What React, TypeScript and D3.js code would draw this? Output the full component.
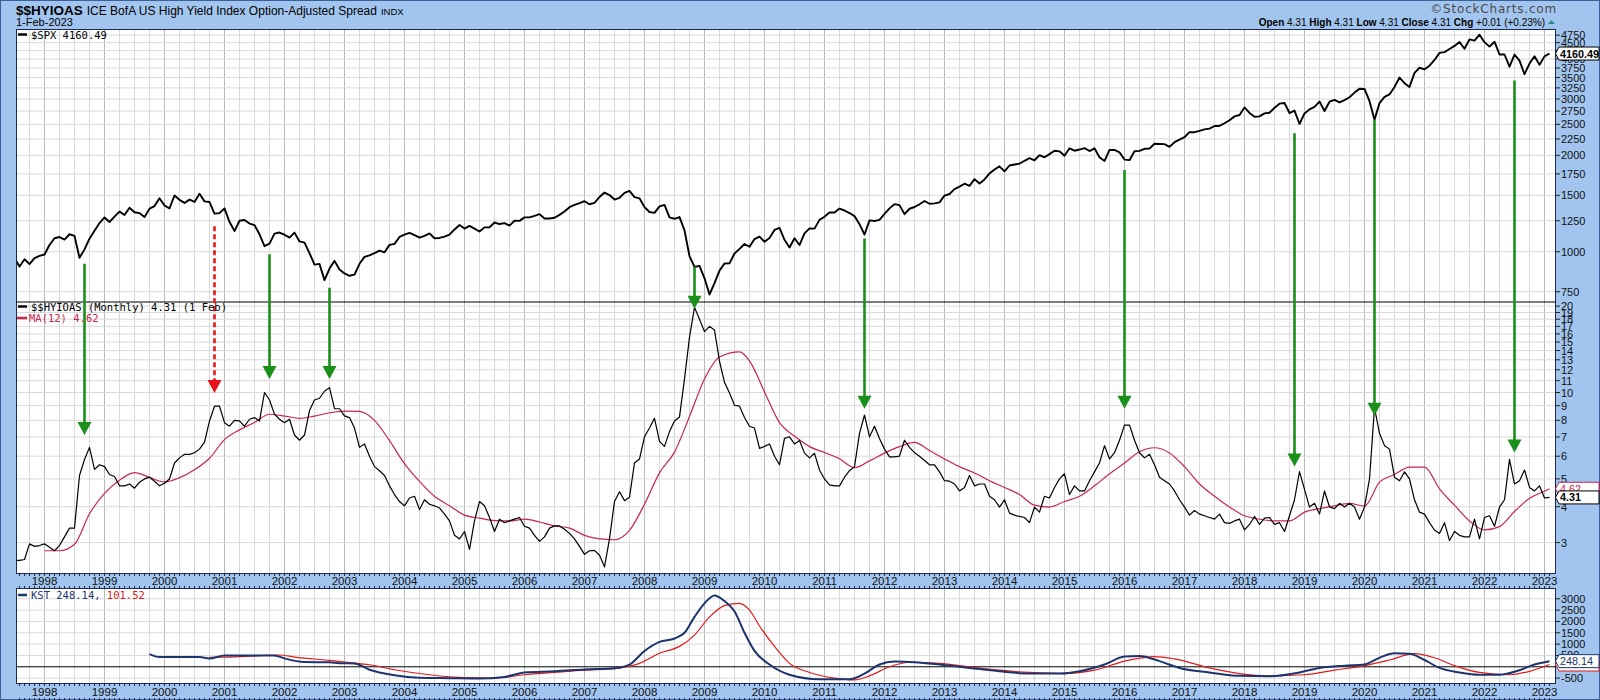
import React from 'react';
import * as d3 from 'd3';

// ---------- DATA ----------
const START = '1997-07'; // first monthly point of spx / hy

const spx = [
  954.29, 899.47, 947.28, 914.62, 955.4, 970.43,
  980.28, 1049.34, 1101.75, 1111.75, 1090.82, 1133.84, 1120.67, 957.28, 1017.01, 1098.67, 1163.63, 1229.23,
  1279.64, 1238.33, 1286.37, 1335.18, 1301.84, 1372.71, 1328.72, 1320.41, 1282.71, 1362.93, 1388.91, 1469.25,
  1394.46, 1366.42, 1498.58, 1452.43, 1420.6, 1454.6, 1430.83, 1517.68, 1436.51, 1429.4, 1314.95, 1320.28,
  1366.01, 1239.94, 1160.33, 1249.46, 1255.82, 1224.38, 1211.23, 1133.58, 1040.94, 1059.78, 1139.45, 1148.08,
  1130.2, 1106.73, 1147.39, 1076.92, 1067.14, 989.82, 911.62, 916.07, 815.28, 885.76, 936.31, 879.82,
  855.7, 841.15, 848.18, 916.92, 963.59, 974.5, 990.31, 1008.01, 995.97, 1050.71, 1058.2, 1111.92,
  1131.13, 1144.94, 1126.21, 1107.3, 1120.68, 1140.84, 1101.72, 1104.24, 1114.58, 1130.2, 1173.82, 1211.92,
  1181.27, 1203.6, 1180.59, 1156.85, 1191.5, 1191.33, 1234.18, 1220.33, 1228.81, 1207.01, 1249.48, 1248.29,
  1280.08, 1280.66, 1294.83, 1310.61, 1270.09, 1270.2, 1276.66, 1303.82, 1335.85, 1377.94, 1400.63, 1418.3,
  1438.24, 1406.82, 1420.86, 1482.37, 1530.62, 1503.35, 1455.27, 1473.99, 1526.75, 1549.38, 1481.14, 1468.36,
  1378.55, 1330.63, 1322.7, 1385.59, 1400.38, 1280.0, 1267.38, 1282.83, 1166.36, 968.75, 896.24, 903.25,
  825.88, 735.09, 797.87, 872.81, 919.14, 919.32, 987.48, 1020.62, 1057.08, 1036.19, 1095.63, 1115.1,
  1073.87, 1104.49, 1169.43, 1186.69, 1089.41, 1030.71, 1101.6, 1049.33, 1141.2, 1183.26, 1180.55, 1257.64,
  1286.12, 1327.22, 1325.83, 1363.61, 1345.2, 1320.64, 1292.28, 1218.89, 1131.42, 1253.3, 1246.96, 1257.6,
  1312.41, 1365.68, 1408.47, 1397.91, 1310.33, 1362.16, 1379.32, 1406.58, 1440.67, 1412.16, 1416.18, 1426.19,
  1498.11, 1514.68, 1569.19, 1597.57, 1630.74, 1606.28, 1685.73, 1632.97, 1681.55, 1756.54, 1805.81, 1848.36,
  1782.59, 1859.45, 1872.34, 1883.95, 1923.57, 1960.23, 1930.67, 2003.37, 1972.29, 2018.05, 2067.56, 2058.9,
  1994.99, 2104.5, 2067.89, 2085.51, 2107.39, 2063.11, 2103.84, 1972.18, 1920.03, 2079.36, 2080.41, 2043.94,
  1940.24, 1932.23, 2059.74, 2065.3, 2096.95, 2098.86, 2173.6, 2170.95, 2168.27, 2126.15, 2198.81, 2238.83,
  2278.87, 2363.64, 2362.72, 2384.2, 2411.8, 2423.41, 2470.3, 2471.65, 2519.36, 2575.26, 2647.58, 2673.61,
  2823.81, 2713.83, 2640.87, 2648.05, 2705.27, 2718.37, 2816.29, 2901.52, 2913.98, 2711.74, 2760.17, 2506.85,
  2704.1, 2784.49, 2834.4, 2945.83, 2752.06, 2941.76, 2980.38, 2926.46, 2976.74, 3037.56, 3140.98, 3230.78,
  3225.52, 2954.22, 2584.59, 2912.43, 3044.31, 3100.29, 3271.12, 3500.31, 3363.0, 3269.96, 3621.63, 3756.07,
  3714.24, 3811.15, 3972.89, 4181.17, 4204.11, 4297.5, 4395.26, 4522.68, 4307.54, 4605.38, 4567.0, 4766.18,
  4515.55, 4373.94, 4530.41, 4131.93, 4132.15, 3785.38, 4130.29, 3955.0, 3585.62, 3871.98, 4080.11, 3839.5,
  4076.6, 4160.49,
];

const hy = [
  2.6, 2.6, 2.62, 2.97, 2.91, 2.93,
  2.97, 2.89, 2.81, 2.93, 3.14, 3.37, 3.37, 5.14, 5.84, 6.44, 5.4, 5.6,
  5.52, 5.18, 5.1, 4.73, 4.73, 4.8, 4.64, 4.87, 5.0, 5.07, 4.91, 4.73,
  4.83, 5.0, 5.68, 5.92, 6.09, 6.09, 6.17, 6.35, 6.72, 7.96, 8.96, 8.96,
  7.85, 7.63, 8.0, 7.96, 7.63, 8.07, 8.18, 7.96, 10.0, 9.42, 8.41, 8.07,
  7.85, 8.07, 7.11, 6.82, 7.11, 8.65, 9.42, 9.55, 10.1, 10.4, 8.78, 8.78,
  8.29, 8.18, 7.52, 6.44, 6.62, 6.0, 5.52, 5.34, 5.14, 4.73, 4.41, 4.17,
  4.03, 4.29, 4.35, 3.91, 4.23, 4.08, 4.03, 3.96, 3.77, 3.57, 3.18, 3.09,
  3.28, 2.84, 3.57, 4.17, 4.03, 3.67, 3.28, 3.62, 3.52, 3.57, 3.62, 3.67,
  3.42, 3.37, 3.18, 3.03, 3.14, 3.37, 3.43, 3.43, 3.34, 3.23, 3.09, 2.91,
  2.73, 2.81, 2.82, 2.71, 2.47, 3.09, 4.17, 4.51, 4.2, 4.32, 5.68, 5.87,
  7.01, 7.52, 8.13, 6.76, 6.49, 7.31, 7.96, 8.22, 11.15, 15.6, 19.8, 18.0,
  16.3, 17.0, 16.5, 12.85, 10.85, 9.97, 9.03, 8.96, 8.18, 7.63, 7.52, 6.39,
  6.49, 6.62, 6.0, 5.6, 6.92, 7.01, 6.62, 6.8, 6.15, 5.92, 6.14, 5.37,
  5.0, 4.77, 4.73, 4.73, 5.07, 5.34, 5.52, 7.21, 8.35, 7.01, 7.63, 6.92,
  6.35, 5.97, 5.97, 6.0, 6.82, 6.44, 6.17, 6.0, 5.8, 5.6, 5.6, 5.29,
  4.93, 4.91, 4.8, 4.54, 4.67, 5.14, 4.73, 4.8, 4.8, 4.35, 4.23, 3.99,
  4.23, 3.8, 3.74, 3.7, 3.67, 3.52, 3.99, 3.83, 4.35, 4.29, 4.67, 5.0,
  5.21, 4.41, 4.73, 4.54, 4.54, 4.93, 5.29, 5.68, 6.53, 5.87, 6.17, 6.82,
  7.7, 7.7, 6.82, 6.17, 5.92, 6.09, 5.6, 5.07, 4.93, 4.8, 4.54, 4.23,
  3.99, 3.74, 3.88, 3.77, 3.72, 3.67, 3.62, 3.77, 3.52, 3.5, 3.57, 3.62,
  3.32, 3.47, 3.7, 3.47, 3.65, 3.67, 3.47, 3.52, 3.28, 3.72, 4.23, 5.3,
  4.6, 3.99, 4.11, 3.77, 4.54, 3.99, 3.94, 4.11, 3.99, 4.11, 3.99, 3.62,
  3.99, 5.0, 8.85, 7.21, 6.53, 6.35, 5.07, 4.93, 5.29, 5.0, 4.23, 3.83,
  3.77, 3.52, 3.32, 3.23, 3.52, 3.05, 3.28, 3.18, 3.14, 3.14, 3.62, 3.09,
  3.67, 3.72, 3.42, 3.99, 4.23, 5.85, 4.8, 4.93, 5.37, 4.67, 4.54, 4.73,
  4.29, 4.31,
];

const maDates = [
  '1998-01', '1998-04', '1998-07', '1998-10', '1999-01', '1999-04', '1999-07', '1999-10',
  '2000-01', '2000-04', '2000-07', '2000-10', '2001-01', '2001-04', '2001-07', '2001-10',
  '2002-01', '2002-04', '2002-07', '2002-10', '2003-01', '2003-04', '2003-07', '2003-10',
  '2004-01', '2004-04', '2004-07', '2004-10', '2005-01', '2005-04', '2005-07', '2005-10',
  '2006-01', '2006-04', '2006-07', '2006-10', '2007-01', '2007-04', '2007-07', '2007-10',
  '2008-01', '2008-04', '2008-07', '2008-10', '2009-01', '2009-04', '2009-08', '2009-10',
  '2010-01', '2010-04', '2010-07', '2010-10', '2011-01', '2011-04', '2011-07', '2011-10',
  '2012-01', '2012-04', '2012-07', '2012-10', '2013-01', '2013-04', '2013-07', '2013-10',
  '2014-01', '2014-04', '2014-07', '2014-10', '2015-01', '2015-04', '2015-07', '2015-10',
  '2016-01', '2016-04', '2016-07', '2016-10', '2017-01', '2017-04', '2017-07', '2017-10',
  '2018-01', '2018-04', '2018-07', '2018-10', '2019-01', '2019-04', '2019-07', '2019-10',
  '2020-01', '2020-04', '2020-07', '2020-10', '2021-01', '2021-04', '2021-07', '2021-10',
  '2022-01', '2022-04', '2022-07', '2022-10', '2023-01', '2023-02',
];
const maValues = [
  2.81, 2.81, 2.96, 3.78, 4.45, 4.95, 5.26, 5.06,
  4.88, 5.05, 5.38, 5.9, 6.85, 7.41, 7.86, 8.4,
  8.28, 8.13, 8.28, 8.5, 8.62, 8.6, 8.0, 6.8,
  5.65, 4.9, 4.35, 4.03, 3.74, 3.65, 3.58, 3.57,
  3.62, 3.54, 3.43, 3.37, 3.18, 3.09, 3.07, 3.31,
  4.08, 5.25, 6.2, 8.25, 11.15, 13.3, 13.85, 12.9,
  10.05, 7.85, 7.05, 6.48, 6.18, 5.88, 5.47, 5.78,
  6.15, 6.48, 6.7, 6.28, 5.87, 5.52, 5.24, 4.93,
  4.67, 4.41, 4.05, 3.99, 4.17, 4.35, 4.73, 5.21,
  5.68, 6.22, 6.42, 6.16, 5.52, 4.8, 4.35, 3.99,
  3.72, 3.62, 3.57, 3.57, 3.83, 3.94, 4.03, 4.11,
  4.02, 4.87, 5.18, 5.5, 5.5, 4.62, 4.05, 3.57,
  3.32, 3.41, 3.85, 4.28, 4.53, 4.62,
];

const kstDates = [
  '1999-10', '1999-12', '2000-08', '2000-10', '2001-01', '2001-11', '2002-01', '2002-05', '2002-10',
  '2002-12', '2003-03', '2003-06', '2003-11', '2004-04', '2004-10', '2005-04', '2005-09', '2006-01',
  '2006-07', '2007-01', '2007-07', '2007-10', '2008-01', '2008-04', '2008-07', '2008-09', '2008-11',
  '2009-01', '2009-03', '2009-05', '2009-07', '2009-09', '2009-11', '2010-02', '2010-06', '2010-12',
  '2011-06', '2011-09', '2011-12', '2012-03', '2012-07', '2012-12', '2013-06', '2013-12', '2014-06',
  '2014-12', '2015-04', '2015-09', '2016-01', '2016-04', '2016-08', '2016-12', '2017-06', '2017-12',
  '2018-06', '2018-12', '2019-04', '2019-09', '2020-01', '2020-04', '2020-07', '2020-10', '2021-01',
  '2021-04', '2021-08', '2021-12', '2022-04', '2022-08', '2022-11', '2023-02',
];
const kstValues = [
  560, 430, 430, 370, 500, 500, 370, 210, 200,
  160, 150, -130, -370, -480, -500, -520, -450, -250,
  -200, -120, -60, 100, 700, 1100, 1250, 1500, 2200,
  2800, 3150, 2900, 2450, 1500, 700, 100, -350, -550,
  -550, -300, 100, 230, 200, 100, -50, -200, -300,
  -300, -200, 100, 450, 480, 250, -50, -250, -400,
  -420, -250, -50, 50, 100, 400, 600, 580, 300,
  -50, -250, -350, -350, -150, 100, 248.14,
];

const sigDates = [
  '2000-10', '2001-03', '2001-09', '2001-12', '2002-03', '2002-10', '2003-02', '2003-06', '2003-11',
  '2004-06', '2005-01', '2005-07', '2006-01', '2006-07', '2007-01', '2007-07', '2007-12', '2008-04',
  '2008-08', '2008-11', '2009-02', '2009-05', '2009-08', '2009-10', '2009-12', '2010-03', '2010-06',
  '2010-10', '2011-03', '2011-07', '2011-10', '2012-02', '2012-06', '2012-12', '2013-06', '2013-12',
  '2014-06', '2015-01', '2015-07', '2016-01', '2016-07', '2016-11', '2017-06', '2017-12', '2018-06',
  '2019-01', '2019-07', '2020-01', '2020-06', '2020-11', '2021-03', '2021-07', '2021-12', '2022-06',
  '2022-10', '2023-02',
];
const sigValues = [
  420, 440, 500, 520, 430, 280, 190, 90, -130,
  -350, -480, -500, -350, -250, -150, -80, 150, 600,
  900, 1400, 2200, 2700, 2800, 2500, 1800, 900, 150,
  -250, -500, -580, -400, 0, 200, 150, 0, -150,
  -250, -300, -150, 250, 450, 350, -50, -300, -400,
  -350, -150, 50, 300, 580, 400, 50, -250, -350,
  -200, 101.52,
];

const yearLabels = ['1998', '1999', '2000', '2001', '2002', '2003', '2004', '2005', '2006', '2007', '2008',
  '2009', '2010', '2011', '2012', '2013', '2014', '2015', '2016', '2017', '2018', '2019', '2020', '2021',
  '2022', '2023'];
const spxTicks = [750, 1000, 1250, 1500, 1750, 2000, 2250, 2500, 2750, 3000, 3250, 3500, 3750, 4000, 4250, 4500, 4750];
const spxLabels = ['750', '1000', '1250', '1500', '1750', '2000', '2250', '2500', '2750', '3000', '3250', '3500', '3750', '4000', '', '4500', '4750'];
const hyTicks = [3, 4, 5, 6, 7, 8, 9, 10, 11, 12, 13, 14, 15, 16, 17, 18, 19, 20];
const kstTicks = [-500, 0, 500, 1000, 1500, 2000, 2500, 3000];
const kstLabels = ['-500', '', '500', '1000', '1500', '2000', '2500', '3000'];

// annotation arrows: date, S&P level where arrow starts, spread level where the head points
const arrowDates = ['1998-09', '2000-11', '2001-10', '2002-10', '2008-11', '2011-09', '2016-01', '2018-11', '2020-03', '2022-07'];
const arrowSpx = [917, 1201, 982, 772, 898, 1100, 1799, 2344, 2580, 3425];
const arrowHy = [7.11, 9.96, 11.14, 11.14, 19.6, 8.78, 8.78, 5.52, 8.3, 6.18];
const arrowRed = [false, true, false, false, false, false, false, false, false, false];

// ---------- HELPERS ----------
const FONT = "'Liberation Sans', Arial, Helvetica, sans-serif";
const WIDE = "'DejaVu Sans', Verdana, sans-serif";
const MONO = "'DejaVu Sans Mono', 'Liberation Mono', monospace";
const BG = '#a2c5ef';
const BORDER = '#1b2a4e';
const GRID = '#d9d9d9';
const GRID_MAJOR = '#b9b9b9';
const GREEN = '#1a8f1a';
const REDA = '#e8141c';
const MA_COL = '#c8264e';
const KST_COL = '#1c356e';
const SIG_COL = '#e01b1b';

function mIdx(s: string) {
  const [y, m] = s.split('-').map(Number);
  return (y - 1998) * 12 + (m - 1);
}

const L = 16, R = 1556;
const P1 = { t: 29, b: 302 };
const P2 = { t: 302, b: 574 };
const P3 = { t: 588, b: 684 };

function ValueBox({ y, text, stroke, color, bold }: { y: number; text: string; stroke: string; color: string; bold?: boolean }) {
  const h = 6.5;
  return (
    <g>
      <path d={`M${R - 0.5},${y} L${R + 3},${y - h} L1599,${y - h} L1599,${y + h} L${R + 3},${y + h} Z`} fill="#fff" stroke={stroke} strokeWidth={1} />
      <text x={R + 4} y={y + 4} fontFamily={FONT} fontSize={10.8} fontWeight={bold ? 700 : 400} fill={color}>{text}</text>
    </g>
  );
}

export default function App() {
  const xs = d3.scaleLinear().domain([0, 300]).range([44.5, 1544.5]);
  const y1 = d3.scaleLog().domain([696.5, 4964]).range([P1.b, P1.t]);
  const y2 = d3.scaleLog().domain([2.332, 20.67]).range([P2.b, P2.t]);
  const y3 = d3.scaleLinear().domain([-759, 3476]).range([P3.b, P3.t]);
  const s0 = mIdx(START);

  const spxPath = d3.line<number>().x((_, i) => xs(s0 + i)).y((d) => y1(d))(spx) || '';
  const hyPath = d3.line<number>().x((_, i) => xs(s0 + i)).y((d) => y2(d))(hy) || '';
  const maPath = d3.line<number>().x((_, i) => xs(mIdx(maDates[i]))).y((d) => y2(d)).curve(d3.curveMonotoneX)(maValues) || '';
  const kstPath = d3.line<number>().x((_, i) => xs(mIdx(kstDates[i]))).y((d) => y3(d)).curve(d3.curveMonotoneX)(kstValues) || '';
  const sigPath = d3.line<number>().x((_, i) => xs(mIdx(sigDates[i]))).y((d) => y3(d)).curve(d3.curveMonotoneX)(sigValues) || '';

  const months = d3.range(-6, 302);
  const vGrid = months.filter((m) => ((m % 3) + 3) % 3 === 0).map((m) => ({ x: xs(m), major: ((m % 12) + 12) % 12 === 0 })).filter((g) => g.x > L && g.x < R);
  const monthTicks = months.map((m) => xs(m)).filter((x) => x > L && x < R);

  const vLines = (t: number, b: number) =>
    vGrid.map((g, i) => (
      <line key={i} x1={g.x} x2={g.x} y1={t} y2={b} stroke={g.major ? GRID_MAJOR : GRID} strokeWidth={1} />
    ));

  const axisLabel = (y: number, label: string, key: string | number) => (
    <g key={key}>
      <line x1={R} x2={R + 4} y1={y} y2={y} stroke="#222" strokeWidth={1} />
      {label ? <text x={R + 5} y={y + 4} fontFamily={FONT} fontSize={11} fill="#111">{label}</text> : null}
    </g>
  );

  const yearStrip = (top: number, bottom: number, baseline: number) => (
    <g>
      {monthTicks.map((x, i) => (
        <g key={i}>
          <line x1={x} x2={x} y1={top} y2={top + 2} stroke={BORDER} strokeWidth={1} />
          <line x1={x} x2={x} y1={bottom - 2} y2={bottom} stroke={BORDER} strokeWidth={1} />
        </g>
      ))}
      {yearLabels.map((yl) => (
        <text key={yl} x={xs(mIdx(yl + '-01'))} y={baseline} textAnchor="middle" fontFamily={FONT} fontSize={11.5} fill="#111">{yl}</text>
      ))}
    </g>
  );

  return (
    <svg width={1600} height={700} style={{ position: 'absolute', left: 0, top: 0, display: 'block' }}>
      <defs>
        <clipPath id="c1"><rect x={L} y={P1.t} width={R - L} height={P1.b - P1.t} /></clipPath>
        <clipPath id="c2"><rect x={L} y={P2.t} width={R - L} height={P2.b - P2.t} /></clipPath>
        <clipPath id="c3"><rect x={L} y={P3.t} width={R - L} height={P3.b - P3.t} /></clipPath>
      </defs>
      <rect x={0} y={0} width={1600} height={700} fill={BG} />
      <rect x={0.5} y={0.5} width={1599} height={699} fill="none" stroke="#3b5f96" />

      {/* header */}
      <text x={16} y={15} fontFamily={FONT} fill="#000">
        <tspan fontSize={13.5} fontWeight={700}>$$HYIOAS</tspan>
        <tspan fontSize={12} dx={4}>ICE BofA US High Yield Index Option-Adjusted Spread</tspan>
        <tspan fontSize={9.5} dx={4}>INDX</tspan>
      </text>
      <text x={16} y={26} fontFamily={FONT} fontSize={11} fill="#000">1-Feb-2023</text>
      <text x={1557} y={13} textAnchor="end" fontFamily={WIDE} fontSize={12} letterSpacing={0.8} fill="#4a4a4a">©StockCharts.com</text>
      <text x={1545} y={26} textAnchor="end" fontFamily={FONT} fontSize={10} fill="#000">
        <tspan fontWeight={700}>Open</tspan><tspan> 4.31 </tspan>
        <tspan fontWeight={700}>High</tspan><tspan> 4.31 </tspan>
        <tspan fontWeight={700}>Low</tspan><tspan> 4.31 </tspan>
        <tspan fontWeight={700}>Close</tspan><tspan> 4.31 </tspan>
        <tspan fontWeight={700}>Chg</tspan><tspan> +0.01 (+0.23%)</tspan>
      </text>
      <path d="M1548,24 L1551.5,20 L1555,24 Z" fill="#2a8a8a" />

      {/* plot backgrounds */}
      <rect x={L} y={P1.t} width={R - L} height={P2.b - P1.t} fill="#fff" />
      <rect x={L} y={P3.t} width={R - L} height={P3.b - P3.t} fill="#fff" />

      {/* grids */}
      {vLines(P1.t, P2.b)}
      {vLines(P3.t, P3.b)}
      {spxTicks.map((t) => <line key={'g1' + t} x1={L} x2={R} y1={y1(t)} y2={y1(t)} stroke={GRID} />)}
      {hyTicks.map((t) => <line key={'g2' + t} x1={L} x2={R} y1={y2(t)} y2={y2(t)} stroke={GRID} />)}
      {kstTicks.filter((t) => t !== 0).map((t) => <line key={'g3' + t} x1={L} x2={R} y1={y3(t)} y2={y3(t)} stroke={GRID} />)}
      <line x1={L} x2={R} y1={y3(0)} y2={y3(0)} stroke="#000" strokeWidth={1} />

      {/* series */}
      <g clipPath="url(#c1)">
        <path d={spxPath} fill="none" stroke="#000" strokeWidth={1.9} strokeLinejoin="round" />
      </g>
      <g clipPath="url(#c2)">
        <path d={maPath} fill="none" stroke={MA_COL} strokeWidth={1.2} />
        <path d={hyPath} fill="none" stroke="#000" strokeWidth={1.2} strokeLinejoin="round" />
      </g>
      <g clipPath="url(#c3)">
        <path d={sigPath} fill="none" stroke={SIG_COL} strokeWidth={1.2} />
        <path d={kstPath} fill="none" stroke={KST_COL} strokeWidth={2} />
      </g>

      {/* panel frames */}
      <rect x={L + 0.5} y={P1.t + 0.5} width={R - L - 1} height={P2.b - P1.t - 1} fill="none" stroke={BORDER} />
      <line x1={L} x2={R} y1={P2.t} y2={P2.t} stroke="#000" strokeWidth={1.2} />
      <rect x={L + 0.5} y={P3.t + 0.5} width={R - L - 1} height={P3.b - P3.t - 1} fill="none" stroke={BORDER} />

      {/* arrows */}
      {arrowDates.map((d, i) => {
        const x = xs(mIdx(d));
        const top = y1(arrowSpx[i]);
        const tip = y2(arrowHy[i]);
        const col = arrowRed[i] ? REDA : GREEN;
        return (
          <g key={'a' + i}>
            <line x1={x} x2={x} y1={top} y2={tip - 11} stroke={col} strokeWidth={2.6} strokeDasharray={arrowRed[i] ? '5,3' : undefined} />
            <path d={`M${x - 7},${tip - 13} L${x + 7},${tip - 13} L${x},${tip} Z`} fill={col} />
          </g>
        );
      })}

      {/* legends */}
      <line x1={18} x2={27} y1={34.5} y2={34.5} stroke="#000" strokeWidth={2.5} />
      <text x={31} y={38.5} fontFamily={MONO} fontSize={10.5} fill="#000">$SPX 4160.49</text>
      <line x1={18} x2={27} y1={306.5} y2={306.5} stroke="#000" strokeWidth={2.5} />
      <text x={31} y={310.5} fontFamily={MONO} fontSize={10.5} fill="#000">$$HYIOAS (Monthly) 4.31 (1 Feb)</text>
      <line x1={17} x2={27} y1={318} y2={318} stroke={MA_COL} strokeWidth={2.5} />
      <text x={29} y={322} fontFamily={MONO} fontSize={10.5} fill={MA_COL}>MA(12) 4.62</text>
      <line x1={18} x2={27} y1={595} y2={595} stroke={KST_COL} strokeWidth={2.5} />
      <text x={31} y={599} fontFamily={MONO} fontSize={10.5} fill={KST_COL}>
        KST 248.14,<tspan fill={SIG_COL}> 101.52</tspan>
      </text>

      {/* right axes */}
      {spxTicks.map((t, i) => axisLabel(y1(t), spxLabels[i], 's' + t))}
      {hyTicks.map((t) => axisLabel(y2(t), String(t), 'h' + t))}
      {kstTicks.map((t, i) => axisLabel(y3(t), kstLabels[i], 'k' + t))}

      <ValueBox y={y1(4160.49)} text="4160.49" stroke="#000" color="#000" bold />
      <ValueBox y={y2(4.62)} text="4.62" stroke={MA_COL} color={MA_COL} />
      <ValueBox y={y2(4.31)} text="4.31" stroke="#000" color="#000" bold />
      <ValueBox y={y3(101.52)} text="101.52" stroke={SIG_COL} color={SIG_COL} />
      <ValueBox y={y3(248.14)} text="248.14" stroke={KST_COL} color={KST_COL} />

      {/* year strips */}
      {yearStrip(P2.b, P3.t, 585)}
      {yearStrip(P3.b, 700, 696)}
    </svg>
  );
}
